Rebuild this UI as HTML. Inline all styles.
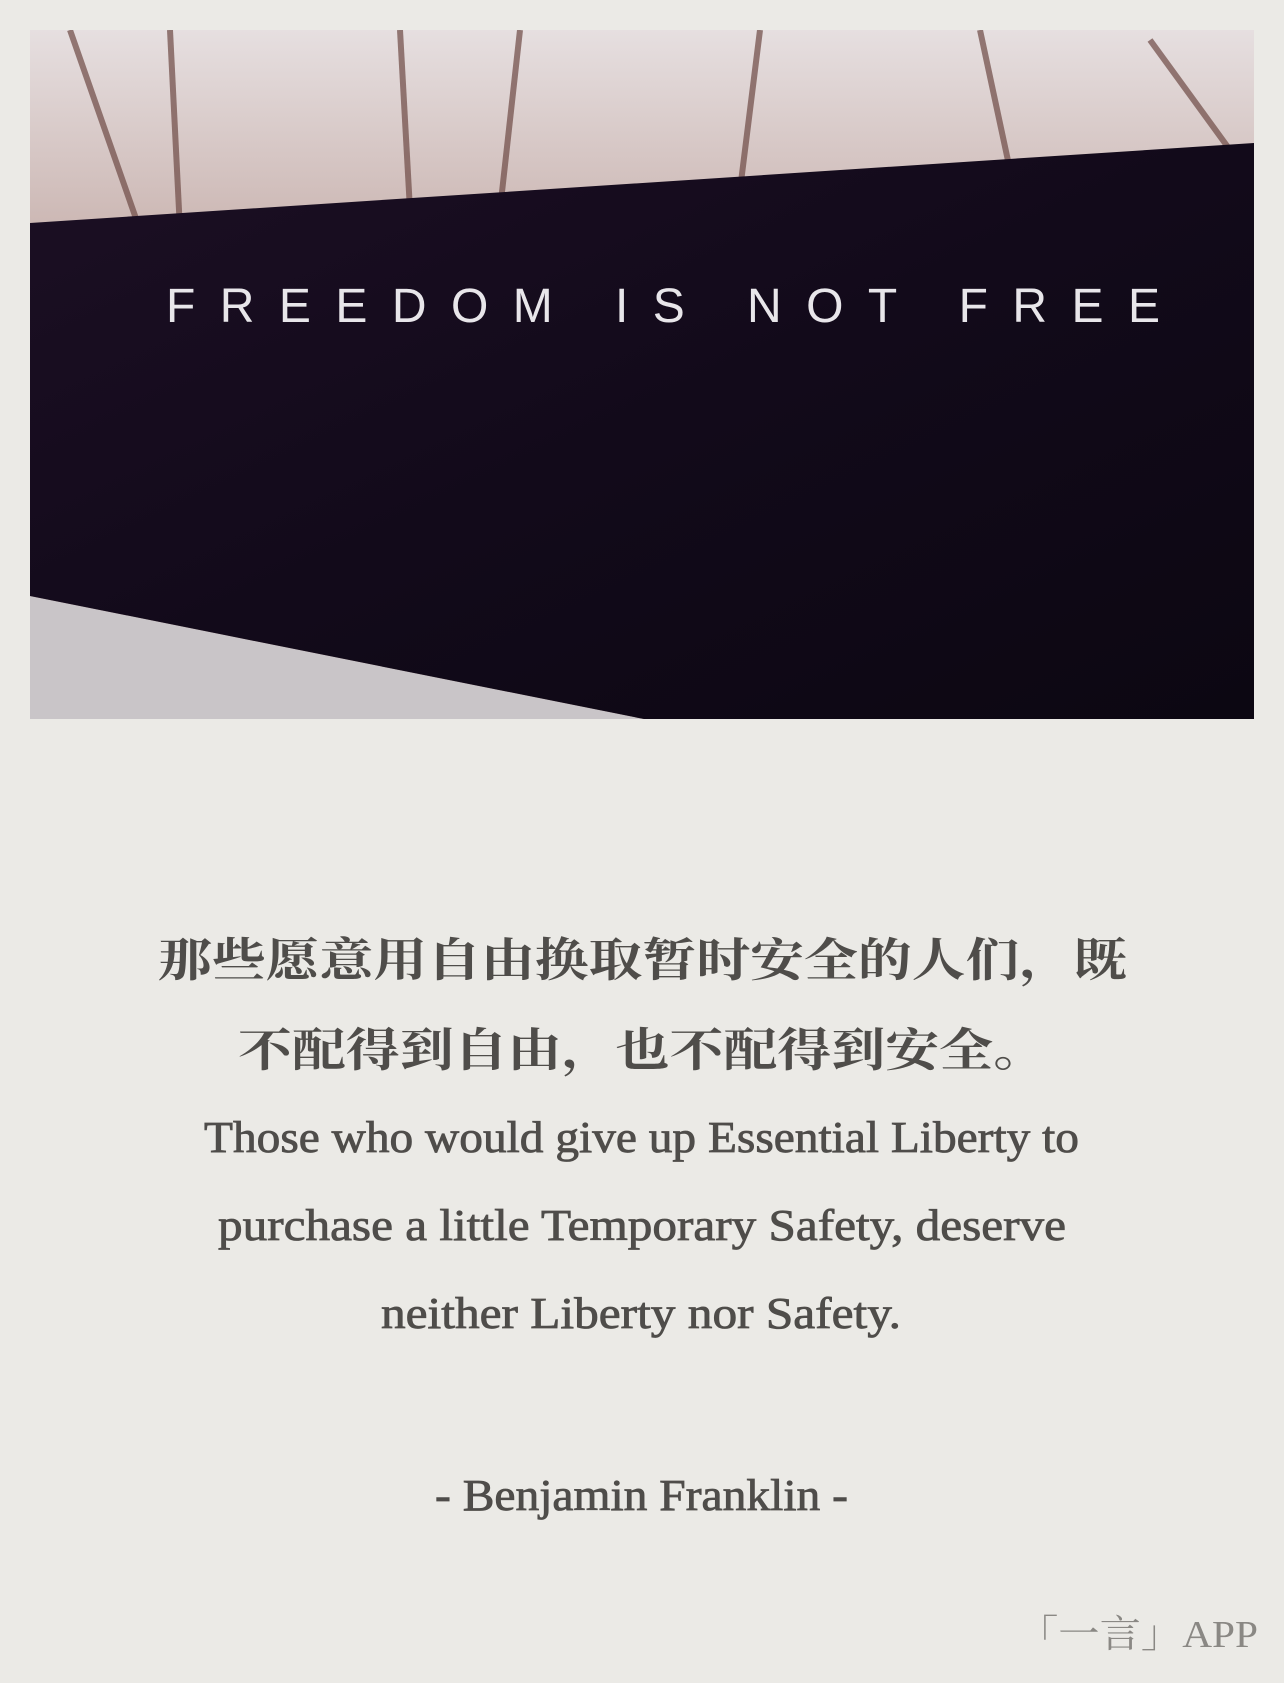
<!DOCTYPE html>
<html><head><meta charset="utf-8"><style>
html,body{margin:0;padding:0;background:#ebeae6;}
svg{display:block}
</style></head><body>
<svg width="1284" height="1683" viewBox="0 0 1284 1683" xmlns="http://www.w3.org/2000/svg">
<defs>
<linearGradient id="sky" x1="0" y1="0" x2="0" y2="1">
<stop offset="0" stop-color="#e6dfe0"/><stop offset="0.5" stop-color="#b99a93"/><stop offset="1" stop-color="#8a6a66"/>
</linearGradient>
<linearGradient id="wall" x1="0" y1="0" x2="1" y2="1">
<stop offset="0" stop-color="#1c0f24"/><stop offset="0.5" stop-color="#120a1a"/><stop offset="1" stop-color="#0c0712"/>
</linearGradient>
<clipPath id="photoClip"><rect x="30" y="30" width="1224" height="689"/></clipPath>
</defs>
<rect width="1284" height="1683" fill="#ebeae6"/>
<g clip-path="url(#photoClip)">
<rect x="30" y="30" width="1224" height="689" fill="url(#sky)"/>
<g stroke="#6e4a45" stroke-width="6" opacity="0.7">
<line x1="70" y1="30" x2="140" y2="230"/><line x1="170" y1="30" x2="180" y2="230"/><line x1="400" y1="30" x2="410" y2="210"/>
<line x1="520" y1="30" x2="500" y2="210"/><line x1="760" y1="30" x2="740" y2="190"/><line x1="980" y1="30" x2="1010" y2="170"/><line x1="1150" y1="40" x2="1230" y2="150"/>
</g>
<polygon points="30,596 644,719 30,719" fill="#c9c5c8"/>
<polygon points="30,223 1254,143 1254,719 644,719 30,596" fill="url(#wall)"/>
<text x="166" y="322" font-family="Liberation Sans, sans-serif" font-size="48" fill="#e8e6ea" textLength="994" lengthAdjust="spacing">FREEDOM IS NOT  FREE</text>
</g>
<g fill="#4f4d4a" font-family="Liberation Serif, 'Noto Serif CJK SC', serif">
<text x="158" y="976" font-size="46" font-weight="bold" textLength="969" lengthAdjust="spacingAndGlyphs">那些愿意用自由换取暂时安全的人们，既</text>
<text x="238" y="1066" font-size="46" font-weight="bold" textLength="809" lengthAdjust="spacingAndGlyphs">不配得到自由，也不配得到安全。</text>
<g stroke="#4f4d4a" stroke-width="0.8">
<text x="204" y="1152" font-size="44" textLength="875" lengthAdjust="spacingAndGlyphs">Those who would give up Essential Liberty to</text>
<text x="218" y="1240" font-size="44" textLength="848" lengthAdjust="spacingAndGlyphs">purchase a little Temporary Safety, deserve</text>
<text x="381" y="1328" font-size="44" textLength="520" lengthAdjust="spacingAndGlyphs">neither Liberty nor Safety.</text>
<text x="435" y="1510" font-size="44" textLength="413" lengthAdjust="spacingAndGlyphs">- Benjamin Franklin -</text>
</g>
<text x="1017" y="1647" font-size="38" fill="#8a8884" textLength="241" lengthAdjust="spacingAndGlyphs">「一言」APP</text>
</g>
</svg>
</body></html>
